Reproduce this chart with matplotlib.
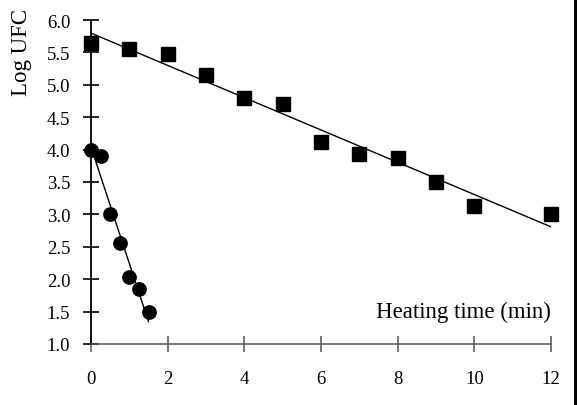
import numpy as np
import matplotlib.pyplot as plt
from matplotlib.patches import Rectangle

plt.rcParams['font.family'] = ['Liberation Serif', 'DejaVu Serif']

# Data
sq_time = [0, 1, 2, 3, 4, 5, 6, 7, 8, 9, 10, 12]
sq_log = [5.65, 5.55, 5.48, 5.15, 4.80, 4.70, 4.12, 3.93, 3.87, 3.50, 3.13, 3.00]
ci_time = [0, 0.25, 0.5, 0.75, 1.0, 1.25, 1.5]
ci_log = [4.00, 3.90, 3.01, 2.56, 2.03, 1.85, 1.50]
sq_fit_range = [0, 12]
ci_fit_range = [0.05, 1.5]
xticks = [0, 2, 4, 6, 8, 10, 12]
yticks = [1.0, 1.5, 2.0, 2.5, 3.0, 3.5, 4.0, 4.5, 5.0, 5.5, 6.0]

fig = plt.figure(figsize=(5.77, 4.06), dpi=100)
ax = fig.add_axes([91 / 577, 1 - 345 / 406, (551 - 91) / 577, (345 - 21) / 406])

# regression lines
p_sq = np.polyfit(sq_time, sq_log, 1)
p_ci = np.polyfit(ci_time, ci_log, 1)
xs = np.array(sq_fit_range)
xc = np.array(ci_fit_range)
ax.plot(xs, np.polyval(p_sq, xs), color='black', lw=1.0, zorder=2)
ax.plot(xc, np.polyval(p_ci, xc), color='black', lw=1.0, zorder=2)

ax.plot(sq_time, sq_log, 's', color='black', ms=10, clip_on=False, zorder=3)
ax.plot(ci_time, ci_log, 'o', color='black', ms=9.6, clip_on=False, zorder=3)

ax.set_xlim(0, 12)
ax.set_ylim(1.0, 6.0)
ax.set_xticks(xticks)
ax.set_yticks(yticks)
ax.set_xticklabels([str(t) for t in xticks])
ax.set_yticklabels([f'{v:.1f}' for v in yticks])

for s in ['top', 'right']:
    ax.spines[s].set_visible(False)
ax.spines['left'].set_color('black')
ax.spines['left'].set_linewidth(1.3)
ax.spines['bottom'].set_color('#555555')
ax.spines['bottom'].set_linewidth(1.1)

ax.tick_params(axis='y', direction='inout', length=12, width=1.2, color='black',
               pad=9, labelsize=13.5)
ax.tick_params(axis='x', direction='inout', length=12, width=1.1, color='#555555',
               pad=13, labelsize=13.5)

ax.text(12, 1.5, 'Heating time (min)', ha='right', va='center', fontsize=16.5)
fig.text(21 / 577, 1 - 52 / 406, 'Log UFC', rotation=90, ha='center', va='center',
         fontsize=16.5)

# black border on the right edge
fig.add_artist(Rectangle((574 / 577, 0), 3 / 577, 1, transform=fig.transFigure,
                         color='black', lw=0))

fig.savefig('out.png', dpi=100)
